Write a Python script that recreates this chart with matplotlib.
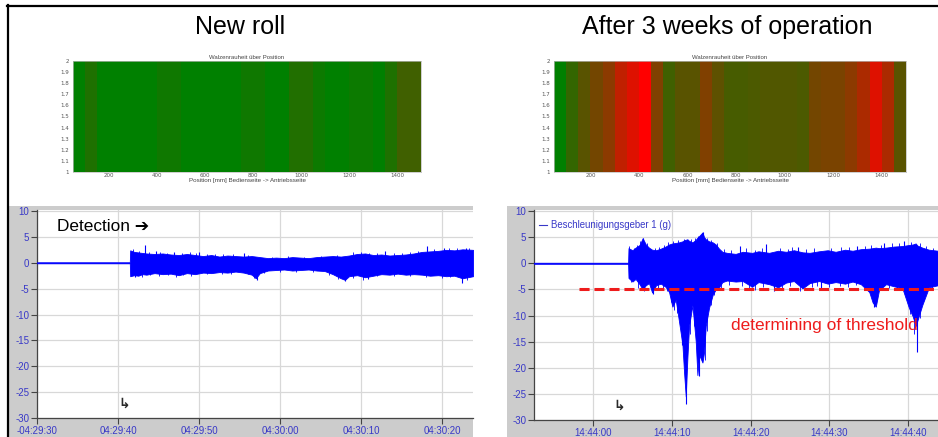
import matplotlib
matplotlib.use('Agg')
import matplotlib.pyplot as plt
import numpy as np
from matplotlib.colors import LinearSegmentedColormap
from matplotlib.patches import Rectangle
from matplotlib.lines import Line2D

# ---------------- data ----------------
band_edges_mm = list(range(50, 1501, 50))  # 29 bands of 50 mm
rough_new = [0.0, 0.12, 0.0, 0.0, 0.0, 0.0, 0.0, 0.06, 0.06, 0.0, 0.0, 0.0, 0.0, 0.0,
             0.06, 0.06, 0.0, 0.0, 0.13, 0.13, 0.05, 0.0, 0.0, 0.05, 0.05, 0.0, 0.12,
             0.25, 0.25]
rough_3w = [0.0, 0.2, 0.35, 0.45, 0.55, 0.75, 0.87, 1.0, 0.5, 0.25, 0.35, 0.35, 0.5,
            0.37, 0.28, 0.28, 0.3, 0.32, 0.32, 0.32, 0.3, 0.45, 0.48, 0.48, 0.55, 0.67,
            0.87, 0.67, 0.35]
heat_xticks = [200, 400, 600, 800, 1000, 1200, 1400]
heat_yticks = [1.0, 1.1, 1.2, 1.3, 1.4, 1.5, 1.6, 1.7, 1.8, 1.9, 2.0]
heat_ylabels = ['1', '1.1', '1.2', '1.3', '1.4', '1.5', '1.6', '1.7', '1.8', '1.9', '2']

# left signal (seconds after 04:29:30): envelope
L_t = [0, 11.45, 11.5, 12.0, 12.5, 13.0, 13.5, 14.5, 15.5, 16.5, 17.5, 18.5, 19.5, 20.5,
       21.5, 22.5, 23.5, 24.5, 25.5, 26.5, 27.0, 27.5, 28.5, 29.5, 30.5, 31.5, 32.5, 33.5,
       34.5, 35.5, 36.5, 37.5, 38.0, 38.5, 39.5, 40.5, 41.5, 42.5, 43.5, 44.5, 45.5, 46.5,
       47.5, 48.5, 49.5, 50.5, 51.5, 52.5, 53.8]
L_up = [0.1, 0.1, 2.4, 2.1, 2.0, 1.9, 1.8, 1.7, 1.8, 1.6, 1.5, 1.7, 1.5, 1.3,
        1.5, 1.2, 1.4, 1.3, 1.2, 1.3, 1.2, 1.1, 0.9, 1.0, 0.9, 1.1, 1.0, 0.9,
        1.1, 1.2, 1.3, 1.2, 1.3, 1.4, 1.7, 1.8, 1.5, 1.6, 1.4, 1.5, 1.6, 1.8,
        2.1, 2.2, 2.3, 2.5, 2.4, 2.6, 2.5]
L_lo = [-0.1, -0.1, -2.6, -2.4, -2.5, -2.2, -2.3, -2.0, -2.2, -2.1, -2.4, -2.0, -2.2, -1.9,
        -2.0, -1.8, -1.9, -1.7, -1.9, -2.3, -3.0, -2.0, -1.5, -1.4, -1.3, -1.5, -1.4, -1.3,
        -1.5, -1.6, -2.2, -3.0, -3.3, -2.6, -2.4, -2.8, -2.5, -2.2, -2.3, -2.1, -2.3, -2.2,
        -2.3, -2.5, -2.4, -2.6, -2.5, -3.0, -2.6]
# large isolated spikes
L_spike_t = [12.1, 13.3, 14.7, 16.9, 20.0, 25.5, 27.1, 38.0, 40.8, 43.0, 48.1, 50.2, 52.4, 52.9]
L_spike_v = [-2.8, 3.5, 2.3, 2.0, 2.0, 1.8, -3.3, -3.6, -3.2, 2.2, 3.3, 2.8, -3.9, 2.9]
# small edge spikes (ragged edge of the band)
L_edge_t = [11.8, 12.6, 13.8, 15.2, 16.0, 17.9, 18.9, 19.6, 21.0, 22.0, 23.0, 24.2, 26.0,
            29.0, 31.0, 33.0, 35.0, 37.0, 39.0, 40.0, 41.0, 42.0, 44.0, 45.0, 46.0, 47.0,
            49.0, 50.8, 51.8, 53.3,
            12.9, 14.0, 15.0, 16.2, 17.2, 18.0, 19.0, 21.0, 22.8, 24.0, 26.0, 26.8, 28.0,
            30.0, 32.0, 34.0, 36.0, 37.2, 39.0, 40.2, 42.0, 44.0, 46.0, 48.0, 50.0, 51.0,
            53.0]
L_edge_v = [2.6, 2.3, 2.0, 2.1, 1.9, 1.9, 2.0, 1.8, 1.7, 1.6, 1.7, 1.6, 1.5,
            1.2, 1.3, 1.2, 1.4, 1.5, 2.0, 2.1, 1.9, 1.8, 1.8, 1.9, 2.0, 2.3,
            2.6, 2.9, 2.8, 2.9,
            -2.7, -2.4, -2.5, -2.4, -2.7, -2.3, -2.5, -2.2, -2.1, -2.1, -2.2, -3.0, -2.0,
            -1.7, -1.8, -1.7, -2.3, -3.2, -2.9, -3.3, -2.6, -2.5, -2.6, -2.7, -2.9, -2.8,
            -3.3]
L_tick_pos = [0, 10, 20, 30, 40, 50]
L_tick_lab = ['-04:29:30', '04:29:40', '04:29:50', '04:30:00', '04:30:10', '04:30:20']

# right signal (seconds after 14:44:00): envelope
R_t = [-7.5, 4.45, 4.5, 5.0, 5.4, 5.9, 6.3, 6.7, 7.1, 7.5, 8.0, 8.6, 9.2, 9.65, 10.07,
       10.5, 10.9, 11.35, 11.56, 11.77, 11.98, 12.19, 12.62, 13.04, 13.25, 13.46, 13.89,
       14.1, 14.31, 14.73, 15.2, 15.58, 16.0, 16.42, 17.0, 18.1, 19.0, 20.2, 21.0, 22.35,
       23.5, 24.5, 25.5, 26.6, 27.5, 28.7, 29.8, 30.8, 32.0, 32.95, 34.0, 35.07, 35.5,
       35.9, 36.3, 37.2, 38.2, 39.28, 40.1, 40.6, 40.97, 41.18, 41.8, 42.65, 43.8]
R_up = [0.1, 0.1, 2.9, 2.5, 3.0, 3.5, 4.8, 3.6, 3.0, 2.6, 2.5, 2.8, 3.2, 3.6, 3.8,
        3.9, 4.0, 4.2, 4.4, 4.5, 4.6, 4.3, 4.0, 4.5, 4.9, 5.2, 5.9,
        5.0, 4.6, 4.2, 4.0, 3.6, 2.8, 2.2, 2.0, 1.8, 2.2, 2.0, 2.3, 2.0,
        2.4, 2.2, 2.5, 2.1, 2.0, 2.3, 2.5, 2.2, 2.6, 2.4, 2.7, 2.8, 2.9,
        3.0, 2.9, 3.0, 3.2, 3.3, 3.5, 3.6, 3.8, 3.4, 3.0, 2.6, 2.4]
R_lo = [-0.1, -0.1, -2.8, -3.5, -3.0, -4.0, -5.0, -4.2, -3.8, -5.6, -4.2, -3.9, -4.5, -5.5, -8.3,
        -7.0, -11.0, -15.6, -21.0, -25.5, -18.0, -12.0, -8.0, -15.0, -21.4, -17.5, -19.0,
        -17.0, -12.0, -8.5, -6.0, -5.0, -4.6, -3.6, -3.3, -3.5, -3.4, -4.5, -3.6, -4.0,
        -4.6, -3.7, -3.4, -4.8, -3.8, -3.4, -3.9, -3.6, -3.9, -3.5, -4.0, -5.5, -7.5,
        -8.3, -5.2, -4.0, -4.4, -4.8, -8.5, -10.2, -12.0, -11.0, -8.0, -4.6, -4.2]
R_spike_t = [6.3, 7.6, 11.3, 11.85, 13.5, 13.9, 18.6, 22.0, 23.0, 26.0, 29.0, 33.5, 35.7,
             37.0, 39.5, 41.18]
R_spike_v = [4.9, -5.8, -15.7, -27.0, -21.5, 6.0, 3.4, 3.6, -5.3, 3.2, -5.0, 3.4, -8.3,
             3.8, 4.3, -17.0]
R_edge_t = [4.6, 5.2, 5.6, 6.0, 6.9, 7.9, 8.4, 9.0, 9.5, 10.2, 10.8, 11.5, 12.4, 12.9,
            13.3, 14.5, 15.0, 15.8, 16.6, 17.5, 19.4, 20.5, 21.5, 23.8, 24.8, 25.2, 27.0,
            28.0, 30.2, 31.5, 32.5, 34.5, 35.3, 36.5, 38.0, 38.8, 40.4, 41.5, 42.3, 43.2,
            4.8, 5.7, 6.5, 8.2, 8.9, 9.4, 9.9, 10.3, 10.7, 12.3, 12.8, 14.2, 14.5, 15.0,
            15.4, 16.2, 17.3, 18.9, 19.8, 20.6, 21.6, 24.0, 25.0, 26.3, 27.8, 28.4, 30.0,
            31.3, 32.4, 33.4, 34.6, 36.1, 37.6, 38.6, 39.7, 40.3, 40.8, 41.5, 42.0, 43.0]
R_edge_v = [3.3, 3.0, 3.5, 4.2, 3.8, 2.9, 3.1, 3.5, 4.0, 4.3, 4.4, 4.7, 4.6, 4.8,
            5.2, 4.9, 4.5, 3.8, 2.7, 2.6, 3.0, 2.6, 2.9, 3.0, 2.8, 3.2, 2.7,
            2.9, 3.0, 3.2, 3.1, 3.3, 3.5, 3.5, 3.9, 3.8, 4.0, 3.9, 3.4, 3.0,
            -3.6, -4.8, -5.3, -4.8, -4.7, -5.3, -7.5, -9.0, -9.5, -13.5, -12.0, -18.5, -13.0,
            -8.0, -6.0, -5.2, -4.2, -4.3, -4.8, -5.2, -4.5, -5.0, -4.3, -5.4, -4.6, -4.3,
            -4.5, -4.4, -4.6, -4.2, -4.9, -7.0, -4.8, -5.2, -6.0, -9.8, -13.5, -10.5,
            -7.0, -5.2]
R_tick_pos = [0, 10, 20, 30, 40]
R_tick_lab = ['14:44:00', '14:44:10', '14:44:20', '14:44:30', '14:44:40']
threshold = -5
threshold_start = -1.8

y_ticks = [10, 5, 0, -5, -10, -15, -20, -25, -30]

# ---------------- figure ----------------
W, H = 938, 437
fig = plt.figure(figsize=(W / 100, H / 100), dpi=100)
fig.patch.set_facecolor('white')
SANS = ['Liberation Sans', 'DejaVu Sans']
SIG = '#0000ff'
TICKBLUE = '#3838c8'


def ax_px(x0, y0, x1, y1, **kw):
    return fig.add_axes([x0 / W, 1 - y1 / H, (x1 - x0) / W, (y1 - y0) / H], **kw)


def rect_px(x0, y0, x1, y1, color):
    fig.patches.append(Rectangle((x0 / W, 1 - y1 / H), (x1 - x0) / W, (y1 - y0) / H,
                                 transform=fig.transFigure, facecolor=color,
                                 edgecolor='none', zorder=-5))


# black frame lines
fig.add_artist(Line2D([7.5 / W, 7.5 / W], [1 - 5 / H, 0], lw=1.6, color='black'))
fig.add_artist(Line2D([7 / W, 1], [1 - 6 / H, 1 - 6 / H], lw=1.6, color='black'))

# titles
fig.text(240 / W, 1 - 27 / H, 'New roll', ha='center', va='center', fontsize=18, family=SANS)
fig.text(727 / W, 1 - 27 / H, 'After 3 weeks of operation', ha='center', va='center',
         fontsize=18, family=SANS)

# heatmaps
cmap = LinearSegmentedColormap.from_list('gr', ['#008000', '#ff0000'])
for (x0, x1, vals) in [(73, 421, rough_new), (554, 906, rough_3w)]:
    ax = ax_px(x0, 61, x1, 172)
    ax.pcolormesh(band_edges_mm, [1, 2], np.array([vals]), cmap=cmap, vmin=0, vmax=1,
                  shading='flat')
    ax.set_xlim(50, 1500)
    ax.set_ylim(1, 2)
    ax.set_xticks(heat_xticks)
    ax.set_xticklabels([str(v) for v in heat_xticks])
    ax.set_yticks(heat_yticks)
    ax.set_yticklabels(heat_ylabels)
    ax.tick_params(length=0, labelsize=4, labelcolor='#555555', pad=1)
    ax.tick_params(axis='y', pad=3)
    for s in ax.spines.values():
        s.set_color('#bbbbbb')
        s.set_linewidth(0.5)
    ax.set_title('Walzenrauheit über Position', fontsize=4.3, pad=1.5, color='#444444',
                 family=SANS)
    ax.set_xlabel('Position [mm] Bedienseite -> Antriebsseite', fontsize=4.5, labelpad=0,
                  color='#444444', family=SANS)

# gray panels
rect_px(9, 206, 473, 437, '#cccccc')
rect_px(507, 206, 938, 437, '#cccccc')


def style_signal_ax(ax, xlim, ylim, tpos, tlab):
    ax.set_zorder(2)
    ax.set_facecolor('white')
    ax.set_xlim(*xlim)
    ax.set_ylim(*ylim)
    ax.set_yticks(y_ticks)
    ax.set_yticklabels([str(v) for v in y_ticks], family=SANS)
    ax.set_xticks(tpos)
    ax.set_xticklabels(tlab, family=SANS)
    ax.tick_params(direction='out', length=4, width=0.8, color='#444444',
                   labelcolor=TICKBLUE, labelsize=7, pad=1.5)
    for side in ['top', 'right']:
        ax.spines[side].set_visible(False)
    for side in ['left', 'bottom']:
        ax.spines[side].set_color('#444444')
        ax.spines[side].set_linewidth(0.9)
    ax.grid(True, color='#d8d8d8', lw=0.9)
    ax.set_axisbelow(True)


def marker_glyph(ax, x, y):
    ax.text(x, y, '\u21b3', fontsize=10, family=['DejaVu Sans'], fontweight='bold',
            ha='left', va='center', color='#2a2a2a', zorder=5)


# left signal panel
axL = ax_px(37, 210, 473, 418)
style_signal_ax(axL, (0, 53.8), (-30, 10.2), L_tick_pos, L_tick_lab)
axL.fill_between(L_t, L_lo, L_up, color=SIG, lw=0.6, zorder=3)
axL.vlines(L_spike_t, 0, L_spike_v, color=SIG, lw=0.8, zorder=3)
axL.vlines(L_edge_t, 0, L_edge_v, color=SIG, lw=0.6, zorder=3)
axL.text(2.5, 7.0, 'Detection \u2794', fontsize=12.4, family=SANS, ha='left', va='center',
         color='black', zorder=5)
marker_glyph(axL, 10.0, -27.3)

# right signal panel
axR = ax_px(534, 210, 938, 420)
style_signal_ax(axR, (-7.5, 43.8), (-30, 10.2), R_tick_pos, R_tick_lab)
axR.fill_between(R_t, R_lo, R_up, color=SIG, lw=0.6, zorder=3)
axR.vlines(R_spike_t, 0, R_spike_v, color=SIG, lw=0.8, zorder=3)
axR.vlines(R_edge_t, 0, R_edge_v, color=SIG, lw=0.6, zorder=3)
axR.plot([threshold_start, 43.8], [threshold, threshold], color='#ee1c1c', lw=2.2,
         dashes=(3.3, 1.6), zorder=4)
axR.text(17.5, -12.0, 'determining of threshold', fontsize=12.5, family=SANS,
         color='#ee1c1c', ha='left', va='center', zorder=5)
axR.plot([-6.9, -5.9], [7.3, 7.3], color=TICKBLUE, lw=0.8, zorder=5)
axR.text(-5.3, 7.3, 'Beschleunigungsgeber 1 (g)', fontsize=6.9, family=SANS,
         color=TICKBLUE, ha='left', va='center', zorder=5)
marker_glyph(axR, 2.6, -27.3)

fig.savefig('out.png', dpi=100, facecolor='white')
